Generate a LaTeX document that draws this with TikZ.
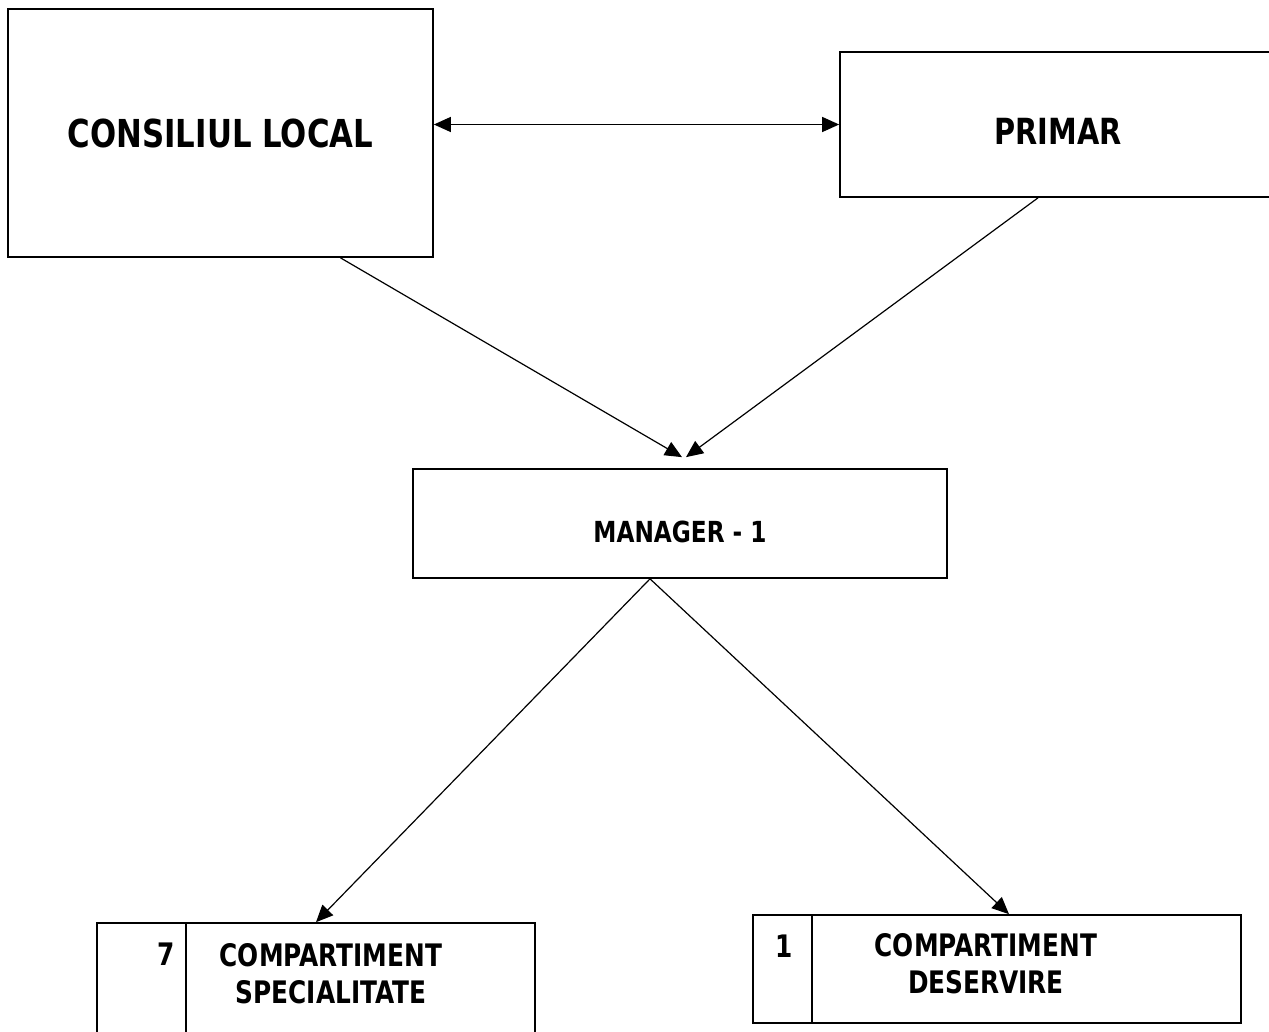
\documentclass[tikz,border=0pt]{standalone}
\usepackage{fontspec}
\setmainfont{DejaVu Sans}[FakeStretch=0.8]
\usetikzlibrary{arrows.meta,calc}
\tikzset{
  boxnode/.style={draw, line width=1.7pt, rectangle, inner sep=0pt, font=\bfseries},
  conn/.style={line width=1.2pt, -{Triangle[length=17pt,width=15pt]}},
  biconn/.style={line width=1.3pt, {Triangle[length=17pt,width=15pt]}-{Triangle[length=17pt,width=15pt]}},
  divider/.style={line width=1.6pt},
  lbl/.style={inner sep=0pt, font=\bfseries\fontsize{31}{37}\selectfont},
}
\begin{document}
\begin{tikzpicture}[x=1pt,y=-1pt]
\useasboundingbox (0,0) rectangle (1269,1032);
\clip (0,0) rectangle (1269,1032);
\fill[white] (0,0) rectangle (1269,1032);

% top boxes
\node[boxnode, minimum width=425pt, minimum height=248pt, font=\bfseries\fontsize{38.5}{46}\selectfont] (CL) at (220.5,133) {CONSILIUL LOCAL};
\node[boxnode, minimum width=436pt, minimum height=145pt] (P) at (1058,124.5) {};
\node[font=\bfseries\fontsize{36}{44}\selectfont, inner sep=0pt] (Ptxt) at (1058,131) {PRIMAR};

% manager
\node[boxnode, minimum width=534pt, minimum height=109pt] (M) at (680,523.5) {};
\node[font=\bfseries\fontsize{29}{35}\selectfont, inner sep=0pt] (Mtxt) at (680,532) {MANAGER - 1};

% bottom left box
\node[boxnode, minimum width=438pt, minimum height=122pt] (LB) at (316,984) {};
\draw[divider] ($(LB.north west)+(90,0)$) coordinate (LBd1) -- ($(LB.south west)+(90,0)$) coordinate (LBd2);
\node[lbl, anchor=base east] (LBn) at (175,965) {7};
\node[lbl, align=center] (LBtxt) at (331,974) {COMPARTIMENT\\SPECIALITATE};

% bottom right box
\node[boxnode, minimum width=488pt, minimum height=108pt] (RB) at (997,969) {};
\draw[divider] ($(RB.north west)+(60,0)$) coordinate (RBd1) -- ($(RB.south west)+(60,0)$) coordinate (RBd2);
\node[lbl, anchor=base] (RBn) at (784,957) {1};
\node[lbl, align=center] (RBtxt) at (986,964) {COMPARTIMENT\\DESERVIRE};

% connectors
\draw[biconn] (CL.east |- P.west) -- (P.west);
\draw[conn] ($(CL.south)+(120,0)$) -- ($(M.north)+(2,-11)$);
\draw[conn] ($(P.south)+(-20,0)$) -- ($(M.north)+(6,-11)$);
\draw[conn] ($(M.south)+(-30,0)$) -- (LB.north);
\draw[conn] ($(M.south)+(-30,0)$) -- ($(RB.north)+(12,0)$);
\end{tikzpicture}
\end{document}
